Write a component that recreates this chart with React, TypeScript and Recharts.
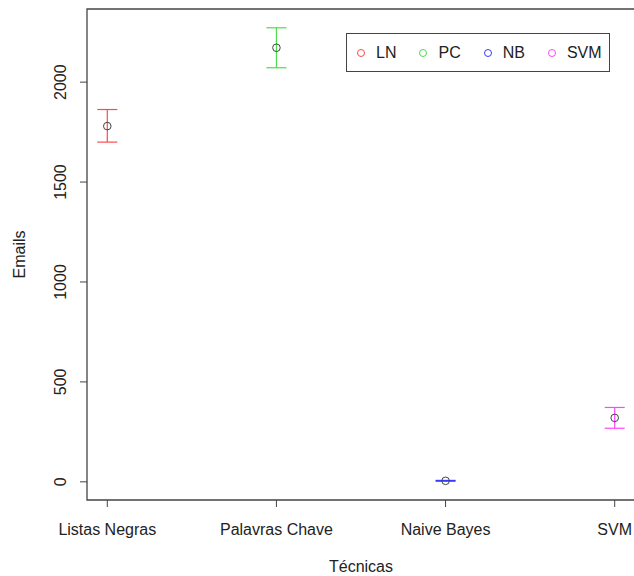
import { ComposedChart, Scatter, ErrorBar, XAxis, YAxis, ReferenceArea, Legend } from 'recharts';

// categorias e valores
const categories = ['Listas Negras', 'Palavras Chave', 'Naive Bayes', 'SVM'];
const seriesNames = ['LN', 'PC', 'NB', 'SVM'];
const seriesColors = ['#ff4a4a', '#4cdc4c', '#3a3aff', '#ff44ff'];
const means = [1780, 2172, 5, 320];
const lowers = [1700, 2072, 3, 268];
const uppers = [1863, 2272, 7, 372];
const yTicks = [0, 500, 1000, 1500, 2000];
const xTicks = [1, 2, 3, 4];

const xDomain = [0.88, 4.12];
const yDomain = [-91, 2366];

const FONT = '"Liberation Sans", Arial, sans-serif';

const series = seriesNames.map((name, i) => ({
  name,
  color: seriesColors[i],
  data: [{ x: i + 1, y: means[i], err: [means[i] - lowers[i], uppers[i] - means[i]] }],
}));

const XTick = (props: any) => {
  const { x, y, payload } = props;
  return (
    <text x={x} y={y + 26} textAnchor="middle" fontSize={16} fill="#222" fontFamily={FONT}>
      {categories[payload.value - 1]}
    </text>
  );
};

const YTick = (props: any) => {
  const { x, y, payload } = props;
  const tx = x - 12;
  return (
    <text x={tx} y={y} transform={`rotate(-90 ${tx} ${y})`} textAnchor="middle" fontSize={16} fill="#222" fontFamily={FONT}>
      {payload.value}
    </text>
  );
};

const LegendBox = () => (
  <div
    style={{
      border: '1px solid #444',
      display: 'flex',
      alignItems: 'center',
      height: 39,
      paddingLeft: 9,
      boxSizing: 'border-box',
      fontFamily: FONT,
      fontSize: 16,
      color: '#222',
      background: '#fff',
    }}
  >
    {seriesNames.map((n, i) => (
      <div key={n} style={{ display: 'flex', alignItems: 'center', marginRight: 22 }}>
        <svg width={10} height={10} style={{ marginRight: 10 }}>
          <circle cx={5} cy={5} r={3.5} fill="none" stroke={seriesColors[i]} strokeWidth={1} />
        </svg>
        <span>{n}</span>
      </div>
    ))}
  </div>
);

export default function App() {
  return (
    <div style={{ position: 'absolute', left: 0, top: 0, width: 634, height: 576, overflow: 'hidden', background: '#fff' }}>
      <ComposedChart width={640} height={576} margin={{ top: 9, right: 5, bottom: 0, left: 0 }}>
        <XAxis
          type="number"
          dataKey="x"
          domain={xDomain}
          ticks={xTicks}
          allowDataOverflow
          height={76}
          axisLine={false}
          tickLine={{ stroke: '#444' }}
          tickSize={7}
          tick={<XTick />}
          label={{
            content: (p: any) => {
              const vb = p.viewBox;
              return (
                <text x={vb.x + vb.width / 2} y={vb.y + 72} textAnchor="middle" fontSize={16} fill="#222" fontFamily={FONT}>
                  Técnicas
                </text>
              );
            },
          }}
        />
        <YAxis
          type="number"
          dataKey="y"
          domain={yDomain}
          ticks={yTicks}
          allowDataOverflow
          width={87}
          axisLine={false}
          tickLine={{ stroke: '#444' }}
          tickSize={7}
          tickMargin={2}
          tick={<YTick />}
          label={{
            content: (p: any) => {
              const vb = p.viewBox;
              const lx = vb.x + 25;
              const ly = vb.y + vb.height / 2;
              return (
                <text x={lx} y={ly} transform={`rotate(-90 ${lx} ${ly})`} textAnchor="middle" fontSize={16} fill="#222" fontFamily={FONT}>
                  Emails
                </text>
              );
            },
          }}
        />
        <ReferenceArea
          x1={xDomain[0]}
          x2={xDomain[1]}
          y1={yDomain[0]}
          y2={yDomain[1]}
          fill="none"
          stroke="#444"
          strokeWidth={1.3}
          ifOverflow="visible"
        />
        {series.map((s) => (
          <Scatter
            key={s.name}
            name={s.name}
            data={s.data}
            fill={s.color}
            isAnimationActive={false}
            shape={(p: any) => <circle cx={p.cx} cy={p.cy} r={3.8} fill="none" stroke="#444" strokeWidth={1} />}
          >
            <ErrorBar dataKey="err" direction="y" width={10} stroke={s.color} strokeWidth={1.2} isAnimationActive={false} />
          </Scatter>
        ))}
        <Legend
          layout="vertical"
          align="center"
          verticalAlign="middle"
          content={<LegendBox />}
          wrapperStyle={{ left: 346, top: 33, width: 264, height: 40 }}
        />
      </ComposedChart>
    </div>
  );
}
